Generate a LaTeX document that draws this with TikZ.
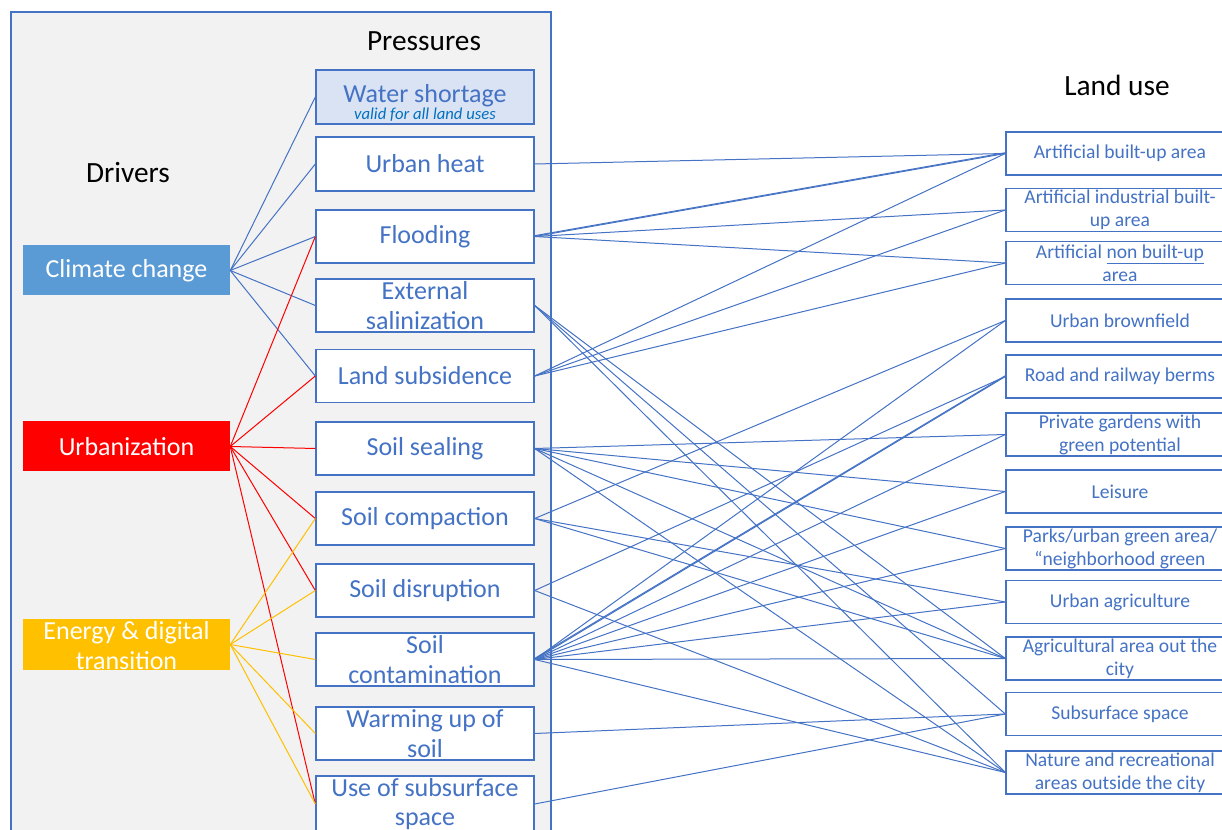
\documentclass[tikz,border=0pt]{standalone}
\usepackage{fontspec}
\setmainfont{Carlito}
\definecolor{bl}{HTML}{4472C4}
\definecolor{itblue}{HTML}{0070C0}
\definecolor{ccfill}{HTML}{5B9BD5}
\definecolor{urfill}{HTML}{FF0000}
\definecolor{enfill}{HTML}{FFC000}
\definecolor{panel}{HTML}{F2F2F2}
\definecolor{wsfill}{HTML}{DAE3F3}
\begin{document}
\begin{tikzpicture}[x=0.75pt,y=-0.75pt,
  pbox/.style={draw=bl, line width=1pt, fill=white, text=bl, minimum width=163.5pt, minimum height=39.75pt, inner sep=0pt, align=center, font=\fontsize{19.5}{22}\selectfont},
  dbox/.style={minimum width=155.25pt, minimum height=37.5pt, inner sep=0pt, align=center, text=white, font=\fontsize{19.5}{22}\selectfont},
  lbox/.style={draw=bl, line width=1pt, fill=white, text=bl, minimum width=171pt, minimum height=32.25pt, inner sep=0pt, align=center, font=\fontsize{14.7}{17.25}\selectfont},
  hdr/.style={font=\fontsize{22}{26}\selectfont, text=black, inner sep=0pt},
  lnblue/.style={draw=bl, line width=0.75pt},
  lnred/.style={draw=urfill, line width=0.75pt},
  lnyellow/.style={draw=enfill, line width=0.75pt}]
\useasboundingbox (0,0) rectangle (1222,830);
\clip (0,0) rectangle (1222,830);
% panel
\draw[draw=bl, line width=1pt, fill=panel] (11,12) rectangle (551,860);
% headers
\node[hdr] (hp) at (424,41) {Pressures};
\node[hdr] (hd) at (128,173) {Drivers};
\node[hdr] (hl) at (1117,85) {Land use};
% drivers
\node[dbox, fill=ccfill] (cc) at (126.5,270.5) {Climate change};
\node[dbox, fill=urfill] (ur) at (126.5,446.5) {Urbanization};
\node[dbox, fill=enfill] (en) at (126.5,644.5) {};
\node[text=white, align=center, inner sep=0pt, font=\fontsize{19.5}{22.5}\selectfont] (ent) at (126.5,646) {Energy \& digital\\transition};
% pressures
\node[pbox, fill=wsfill, minimum height=40.5pt] (ws) at (425,97) {};
\node[anchor=base, text=bl, inner sep=0pt, font=\fontsize{19.5}{22}\selectfont] (wst) at (425,102.5) {Water shortage};
\node[anchor=base, text=itblue, inner sep=0pt, font=\fontsize{12.5}{14}\selectfont\itshape] (wsi) at (425,120) {valid for all land uses};
\node[pbox, minimum height=40.5pt] (uh) at (425,164) {Urban heat};
\node[pbox] (fl) at (425,236.5) {Flooding};
\node[pbox] (es) at (425,305.5) {External\\salinization};
\node[pbox] (ls) at (425,376) {Land subsidence};
\node[pbox] (ss) at (425,448.5) {Soil sealing};
\node[pbox] (sc) at (425,518.5) {Soil compaction};
\node[pbox] (sd) at (425,590.5) {Soil disruption};
\node[pbox] (sco) at (425,659.5) {Soil\\contamination};
\node[pbox] (wu) at (425,733.5) {Warming up of\\soil};
\node[pbox, minimum height=42pt] (us) at (425,804) {Use of subsurface\\space};
% land uses
\node[lbox] (bu) at (1120,153.5) {Artificial built-up area};
\node[lbox] (ind) at (1120,210) {Artificial industrial built-\\up area};
\node[lbox] (nb) at (1120,263) {Artificial \underline{non built-up}\\area};
\node[lbox] (bf) at (1120,320.5) {Urban brownfield};
\node[lbox] (rb) at (1120,376.5) {Road and railway berms};
\node[lbox] (pg) at (1120,434.5) {Private gardens with\\green potential};
\node[lbox] (le) at (1120,491.5) {Leisure};
\node[lbox] (pk) at (1120,548.5) {Parks/urban green area/\\“neighborhood green};
\node[lbox] (ua) at (1120,602) {Urban agriculture};
\node[lbox] (ag) at (1120,658.5) {Agricultural area out the\\city};
\node[lbox] (sb) at (1120,714) {Subsurface space};
\node[lbox] (na) at (1120,772.5) {Nature and recreational\\areas outside the city};
% driver -> pressure
\foreach \p in {ws,uh,fl,es,ls} \draw[lnblue] (cc.east) -- (\p.west);
\foreach \p in {fl,ls,ss,sc,sd,us} \draw[lnred] (ur.east) -- (\p.west);
\foreach \p in {sc,sd,sco,wu,us} \draw[lnyellow] (en.east) -- (\p.west);
% pressure -> land use
\draw[lnblue] (uh.east) -- (bu.west);
\foreach \l in {bu,ind,nb} \draw[lnblue] (fl.east) -- (\l.west);
\draw[lnblue] ([yshift=0.6pt]fl.east) -- ([yshift=0.6pt]bu.west);
\foreach \l in {bu,ind,nb} \draw[lnblue] (ls.east) -- (\l.west);
\foreach \l in {ag,sb,na} \draw[lnblue] (es.east) -- (\l.west);
\foreach \l in {pg,le,pk,ag,na} \draw[lnblue] (ss.east) -- (\l.west);
\foreach \l in {bf,ua,ag} \draw[lnblue] (sc.east) -- (\l.west);
\foreach \l in {rb,na} \draw[lnblue] (sd.east) -- (\l.west);
\foreach \l in {bf,rb,pg,le,pk,ua,ag,na} \draw[lnblue] (sco.east) -- (\l.west);
\draw[lnblue] ([yshift=0.8pt]sco.east) -- ([yshift=0.6pt]rb.west);
\draw[lnblue] (wu.east) -- (sb.west);
\draw[lnblue] (us.east) -- (sb.west);
\end{tikzpicture}
\end{document}
